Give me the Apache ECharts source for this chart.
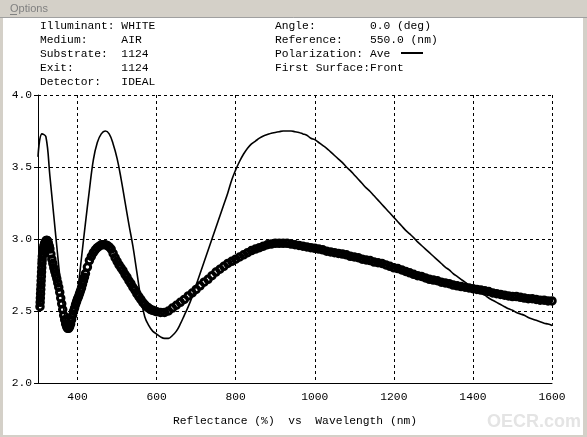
<!DOCTYPE html>
<html>
<head>
<meta charset="utf-8">
<script src="https://cdn.jsdelivr.net/npm/echarts@6/dist/echarts.min.js"></script>
<style>
  html, body { margin: 0; padding: 0; background: #d4d0c8; }
  #chart { width: 587px; height: 437px; }
</style>
</head>
<body>
<div id="chart"></div>
<script>
// header text (monospace, padded like the original)
var headerLeft = ['Illuminant: WHITE', 'Medium:     AIR', 'Substrate:  1124', 'Exit:       1124', 'Detector:   IDEAL'];
var headerRight = ['Angle:        0.0 (deg)', 'Reference:    550.0 (nm)', 'Polarization: Ave', 'First Surface:Front'];

var xTicks = [400, 600, 800, 1000, 1200, 1400, 1600];

// thin solid curve, 300..1600 nm every 10 nm
var lineStart = 300, lineStep = 10;
var lineReflectance = [
  3.57, 3.73, 3.71, 3.44, 3.16, 2.88, 2.62, 2.44, 2.38, 2.45,
  2.63, 2.87, 3.11, 3.34, 3.55, 3.67, 3.73, 3.75, 3.73, 3.66,
  3.56, 3.42, 3.26, 3.10, 2.95, 2.77, 2.59, 2.46, 2.40, 2.36,
  2.34, 2.32, 2.31, 2.31, 2.33, 2.36, 2.41, 2.47, 2.53, 2.60,
  2.68, 2.76, 2.84, 2.92, 3.00, 3.08, 3.16, 3.24, 3.32, 3.41,
  3.48, 3.54, 3.59, 3.63, 3.66, 3.68, 3.70, 3.715, 3.725, 3.735,
  3.74, 3.745, 3.75, 3.75, 3.75, 3.745, 3.74, 3.73, 3.72, 3.70,
  3.69, 3.67, 3.65, 3.63, 3.605, 3.58, 3.555, 3.53, 3.50, 3.475,
  3.445, 3.415, 3.385, 3.355, 3.33, 3.30, 3.27, 3.24, 3.21, 3.18,
  3.15, 3.12, 3.09, 3.06, 3.035, 3.01, 2.98, 2.955, 2.93, 2.905,
  2.88, 2.855, 2.83, 2.805, 2.785, 2.76, 2.74, 2.72, 2.70, 2.68,
  2.66, 2.645, 2.625, 2.61, 2.59, 2.575, 2.56, 2.545, 2.53, 2.515,
  2.505, 2.49, 2.48, 2.47, 2.455, 2.445, 2.435, 2.425, 2.415, 2.41,
  2.40
];

// circle markers, sampled more densely where the curve is steep
var circleStack = [2.53, 2.56, 2.59, 2.62, 2.65, 2.68, 2.71, 2.74, 2.77, 2.80, 2.83, 2.855, 2.88]; // 305..311 by 0.5
var circlePeak = [2.90, 2.92, 2.935, 2.95, 2.96, 2.97, 2.975, 2.98, 2.985, 2.99,
                  2.99, 2.99, 2.985, 2.98, 2.97, 2.96, 2.95, 2.94];                   // 312..329 by 1
var circleDip = [2.93, 2.895, 2.86, 2.83, 2.80, 2.775, 2.75, 2.725, 2.695, 2.665,
                 2.63, 2.59, 2.55, 2.51, 2.47, 2.44, 2.41, 2.39, 2.38, 2.38,
                 2.39, 2.41, 2.44, 2.47, 2.50, 2.52, 2.545, 2.565, 2.585, 2.60,
                 2.62, 2.64, 2.66, 2.685, 2.71, 2.735, 2.76];                         // 330..420 by 2.5
var circleHump = [2.805, 2.85, 2.88, 2.905, 2.925, 2.94, 2.95, 2.96, 2.96, 2.96,
                  2.955, 2.945, 2.93, 2.90, 2.87, 2.845, 2.82, 2.80, 2.78, 2.755,
                  2.735, 2.71, 2.69, 2.665, 2.645, 2.62, 2.60, 2.58, 2.56, 2.545,
                  2.53, 2.52, 2.51, 2.505, 2.50, 2.495];                              // 425..600 by 5
var circleTail = [
  2.49, 2.49, 2.50, 2.52, 2.54, 2.56, 2.58, 2.605, 2.625, 2.65,
  2.675, 2.70, 2.72, 2.745, 2.77, 2.79, 2.81, 2.83, 2.845, 2.86,
  2.875, 2.89, 2.905, 2.92, 2.93, 2.94, 2.95, 2.96, 2.965, 2.97,
  2.97, 2.97, 2.97, 2.965, 2.96, 2.955, 2.95, 2.945, 2.94, 2.935,
  2.93, 2.925, 2.915, 2.91, 2.905, 2.90, 2.895, 2.89, 2.88, 2.875,
  2.87, 2.86, 2.855, 2.85, 2.84, 2.835, 2.83, 2.82, 2.81, 2.80,
  2.795, 2.785, 2.775, 2.765, 2.755, 2.745, 2.74, 2.73, 2.72, 2.715,
  2.71, 2.70, 2.695, 2.69, 2.68, 2.675, 2.67, 2.665, 2.66, 2.655,
  2.65, 2.645, 2.64, 2.635, 2.625, 2.62, 2.615, 2.61, 2.605, 2.60,
  2.60, 2.595, 2.59, 2.585, 2.585, 2.58, 2.575, 2.575, 2.57, 2.57
];                                                                                    // 610..1600 by 10

function pairs(start, step, values) {
  return values.map(function (v, i) { return [start + i * step, v]; });
}

var lineData = pairs(lineStart, lineStep, lineReflectance);
var circleData = [].concat(
  pairs(305, 0.5, circleStack),
  pairs(312, 1, circlePeak),
  pairs(330, 2.5, circleDip),
  pairs(425, 5, circleHump),
  pairs(610, 10, circleTail)
);

var mono = "'Liberation Mono', 'DejaVu Sans Mono', monospace";

var graphics = [
  { type: 'rect', shape: { x: 3, y: 18, width: 580, height: 417 }, style: { fill: '#fff' }, z: -10 },
  { type: 'line', shape: { x1: 0, y1: 17.5, x2: 587, y2: 17.5 }, style: { stroke: '#a0a0a0', lineWidth: 1 }, z: -9 },
  { type: 'text', x: 10, y: 3, style: { text: 'Options', font: "11px 'Liberation Sans', sans-serif", fill: '#808080' } },
  { type: 'line', shape: { x1: 10, y1: 14.5, x2: 17, y2: 14.5 }, style: { stroke: '#808080', lineWidth: 1 } },
  { type: 'line', shape: { x1: 401, y1: 53, x2: 423, y2: 53 }, style: { stroke: '#000', lineWidth: 2 } },
  { type: 'text', x: 487, y: 413, style: { text: 'OECR.com', font: "bold 18px 'Liberation Sans', sans-serif", fill: '#e4e4e4' } }
];
headerLeft.forEach(function (t, i) {
  graphics.push({ type: 'text', x: 40, y: 26 + i * 14, style: { text: t, font: '11.3px ' + mono, fill: '#000', textVerticalAlign: 'middle' } });
});
headerRight.forEach(function (t, i) {
  graphics.push({ type: 'text', x: 275, y: 26 + i * 14, style: { text: t, font: '11.3px ' + mono, fill: '#000', textVerticalAlign: 'middle' } });
});

var chart = echarts.init(document.getElementById('chart'));

var option = {
  backgroundColor: '#d4d0c8',
  animation: false,
  graphic: graphics,
  grid: { left: 38, right: 35, top: 95, bottom: 54 },
  xAxis: {
    type: 'value',
    min: 300,
    max: 1600,
    name: 'Reflectance (%)  vs  Wavelength (nm)',
    nameLocation: 'middle',
    nameGap: 33,
    nameTextStyle: { fontFamily: mono, fontSize: 11.3, color: '#000' },
    axisLine: { lineStyle: { color: '#000', width: 1 } },
    axisTick: { show: false, customValues: xTicks },
    axisLabel: {
      customValues: xTicks, color: '#000', fontFamily: mono, fontSize: 11.3, margin: 9,
      formatter: function (v) { return String(v); }
    },
    splitLine: { show: true, lineStyle: { color: '#000', type: [3, 3], width: 1 } }
  },
  yAxis: {
    type: 'value',
    min: 2,
    max: 4,
    interval: 0.5,
    axisLine: { show: true, lineStyle: { color: '#000', width: 1 } },
    axisTick: { show: true, length: 4, lineStyle: { color: '#000' } },
    axisLabel: {
      color: '#000', fontFamily: mono, fontSize: 11.3, margin: 6,
      formatter: function (v) { return v.toFixed(1); }
    },
    splitLine: { show: true, lineStyle: { color: '#000', type: [3, 3], width: 1 } }
  },
  series: [
    {
      name: 'Ave circles',
      type: 'scatter',
      data: circleData,
      symbol: 'circle',
      symbolSize: 6.5,
      itemStyle: { color: 'rgba(0,0,0,0)', borderColor: '#000', borderWidth: 3, opacity: 1 },
      silent: true,
      z: 2
    },
    {
      name: 'Ave',
      type: 'line',
      data: lineData,
      smooth: 0.4,
      showSymbol: false,
      lineStyle: { color: '#000', width: 1.6 },
      silent: true,
      z: 3
    }
  ]
};

chart.setOption(option);
</script>
</body>
</html>
